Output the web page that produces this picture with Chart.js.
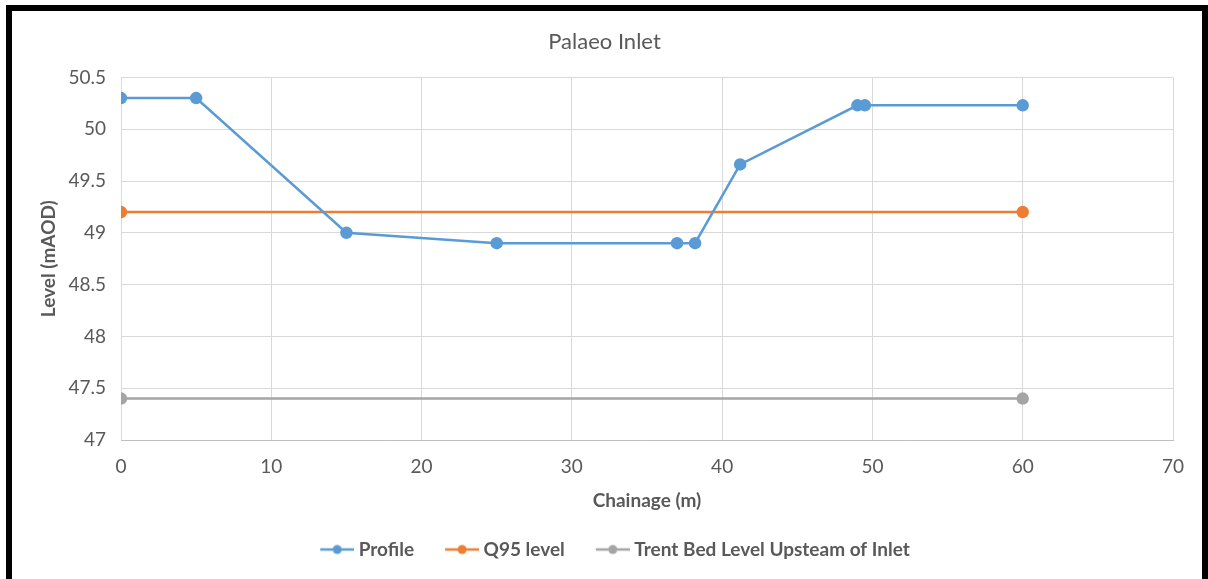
<!DOCTYPE html>
<html>
<head>
<meta charset="utf-8">
<script src="https://cdn.jsdelivr.net/npm/chart.js@4"></script>
<style>
  html, body { margin: 0; padding: 0; background: #fff; overflow: hidden; }
  #frame {
    position: absolute; left: 6px; top: 5px;
    width: 1190px; height: 570px;
    border: 6px solid #000; border-bottom-width: 2px;
    background: #fff;
  }
  #wrap { position: relative; width: 1190px; height: 566px; }
</style>
</head>
<body>
<div id="frame"><div id="wrap"><canvas id="myChart"></canvas></div></div>
<script>
// chainage (m) and level (mAOD)
var profileX = [0, 5, 15, 25, 37, 38.2, 41.2, 49, 49.5, 60];
var profileY = [50.3, 50.3, 49.0, 48.9, 48.9, 48.9, 49.66, 50.23, 50.23, 50.23];
var q95X = [0, 60];
var q95Y = [49.2, 49.2];
var trentX = [0, 60];
var trentY = [47.4, 47.4];

function pts(xs, ys) {
  return xs.map(function (x, i) { return { x: x, y: ys[i] }; });
}

// legend marker: short line with a dot, pushed to the right of a wider box
function marker(color) {
  var c = document.createElement('canvas');
  c.width = 60; c.height = 12;
  var g = c.getContext('2d');
  g.strokeStyle = color; g.lineWidth = 2.5;
  g.beginPath(); g.moveTo(26, 6); g.lineTo(60, 6); g.stroke();
  g.fillStyle = color;
  g.beginPath(); g.arc(43, 6, 4.5, 0, Math.PI * 2); g.fill();
  return c;
}

var font = "Lato, 'Open Sans', sans-serif";
var grey = '#595959';

function series(label, data, color) {
  return {
    label: label,
    data: data,
    showLine: true,
    borderColor: color,
    backgroundColor: color,
    borderWidth: 2.5,
    pointRadius: 5,
    pointHoverRadius: 5,
    pointStyle: 'circle',
    fill: false
  };
}

var ctx = document.getElementById('myChart').getContext('2d');
var myChart = new Chart(ctx, {
  type: 'scatter',
  data: {
    datasets: [
      series('Profile', pts(profileX, profileY), '#5b9bd5'),
      series('Q95 level', pts(q95X, q95Y), '#ed7d31'),
      series('Trent Bed Level Upsteam of Inlet', pts(trentX, trentY), '#a5a5a5')
    ]
  },
  options: {
    responsive: true,
    maintainAspectRatio: false,
    animation: false,
    layout: { padding: { left: 24, right: 29, top: 0, bottom: 8 } },
    plugins: {
      title: {
        display: true,
        text: 'Palaeo Inlet',
        color: grey,
        font: { family: font, size: 22, weight: 'normal' },
        padding: { top: 18, bottom: 22 }
      },
      legend: {
        position: 'bottom',
        labels: {
          color: grey,
          font: { family: font, size: 19, weight: 'bold' },
          usePointStyle: true,
          pointStyleWidth: 50,
          padding: 10,
          generateLabels: function (chart) {
            return chart.data.datasets.map(function (ds, i) {
              return {
                text: ds.label,
                pointStyle: marker(ds.borderColor),
                fillStyle: ds.borderColor,
                strokeStyle: ds.borderColor,
                lineWidth: 0,
                fontColor: grey,
                datasetIndex: i,
                hidden: false
              };
            });
          }
        }
      },
      tooltip: { enabled: false }
    },
    scales: {
      x: {
        type: 'linear',
        min: 0, max: 70,
        ticks: { stepSize: 10, color: grey, padding: 15, font: { family: font, size: 19 } },
        grid: { color: '#d9d9d9', drawTicks: false },
        border: { color: '#bfbfbf' },
        title: {
          display: true, text: 'Chainage (m)', color: grey,
          font: { family: font, size: 19, weight: 'bold' },
          padding: { top: 4, bottom: 18 }
        },
        afterFit: function (s) { s.height = 90; }
      },
      y: {
        min: 47, max: 50.5,
        ticks: {
          stepSize: 0.5, color: grey, padding: 15, font: { family: font, size: 19 },
          callback: function (v) { return String(v); }
        },
        grid: { color: '#d9d9d9', drawTicks: false },
        border: { display: false },
        title: {
          display: true, text: 'Level (mAOD)', color: grey,
          font: { family: font, size: 19, weight: 'bold' },
          padding: { top: 1, bottom: 0 }
        },
        afterFit: function (s) { s.width = 85; }
      }
    }
  }
});
</script>
</body>
</html>
